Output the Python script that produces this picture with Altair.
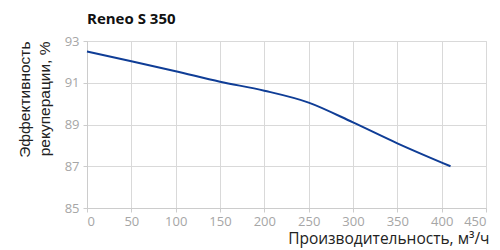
import altair as alt
import pandas as pd

flow = [0, 50, 100, 150, 200, 250, 300, 350, 410]
efficiency = [92.5, 92.03, 91.55, 91.05, 90.62, 90.05, 89.1, 88.1, 87.0]

df = pd.DataFrame({"flow": flow, "eff": efficiency})

chart = alt.Chart(df, title=alt.TitleParams(
    "Reneo S 350", anchor="start", frame="group", font="Open Sans", fontSize=15, fontWeight="bold",
    color="#111111", offset=8)).mark_line(
    color="#0f3d96", strokeWidth=2, interpolate="monotone"
).encode(
    x=alt.X("flow:Q", scale=alt.Scale(domain=[0, 450], nice=False),
            axis=alt.Axis(values=list(range(0, 451, 50)), title="Производительность, м³/ч",
                          titleAnchor="end", titleAlign="right", titleX=402,
                          titleFont="Open Sans", titleFontSize=15.5,
                          titleFontWeight="normal", titleColor="#222222",
                          titleY=35, titleBaseline="alphabetic",
                          labelFont="Open Sans", labelFontSize=13, labelColor="#a6a6a6",
                          labelPadding=3, tickColor="#cccccc", tickSize=4,
                          domainColor="#cccccc", gridColor="#d9d9d9")),
    y=alt.Y("eff:Q", scale=alt.Scale(domain=[85, 93], nice=False, zero=False),
            axis=alt.Axis(values=[85, 87, 89, 91, 93], title=["Эффективность", "рекуперации, %"],
                          titleAnchor="end", titleFont="Liberation Sans", titleFontSize=15.5,
                          titleLineHeight=20,
                          titleFontWeight="normal", titleColor="#222222", titlePadding=12,
                          labelFont="Open Sans", labelFontSize=13, labelColor="#a6a6a6",
                          labelPadding=4, tickColor="#cccccc", tickSize=4,
                          domainColor="#cccccc", gridColor="#d9d9d9")),
).properties(
    width=399, height=167,
    autosize=alt.AutoSizeParams(type="none"),
    padding={"left": 79, "top": 33, "right": 6, "bottom": 41},
).configure_view(stroke="#d9d9d9")

chart.save("out.html", embed_options={"renderer": "svg", "actions": False})
